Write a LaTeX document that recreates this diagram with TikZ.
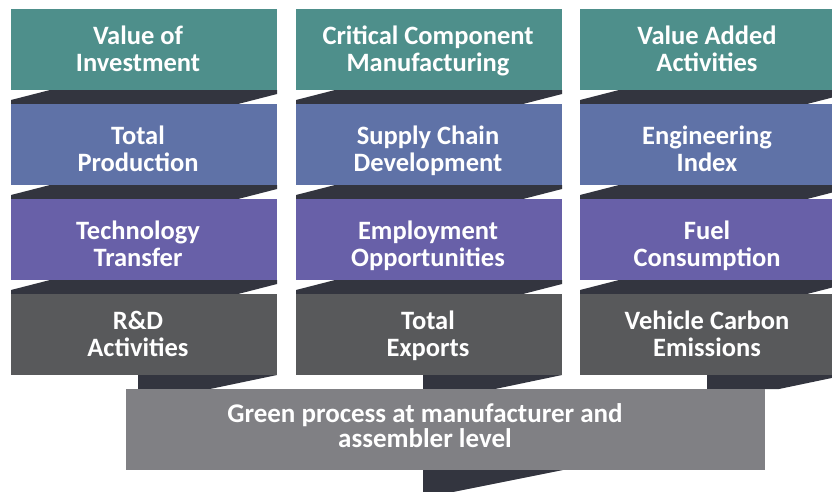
\documentclass[tikz,border=0pt]{standalone}
\usepackage{fontspec}
\setmainfont{Carlito}
\usetikzlibrary{calc}
\definecolor{cteal}{RGB}{78,143,139}
\definecolor{cblue}{RGB}{95,114,167}
\definecolor{cpurp}{RGB}{104,96,168}
\definecolor{cdgrey}{RGB}{88,89,91}
\definecolor{cfold}{RGB}{51,53,63}
\definecolor{cgbox}{RGB}{128,128,132}
\pgfdeclarelayer{background}
\pgfsetlayers{background,main}
\begin{document}
\begin{tikzpicture}[x=1pt,y=-1pt,
  box/.style={anchor=north west, minimum width=266pt, minimum height=81pt, inner sep=0pt, outer sep=0pt, draw=none},
  lbl/.style={text=white, font=\bfseries\fontsize{26.5}{27}\selectfont, align=center, inner sep=0pt},
  fold/.style={fill=cfold}]
\useasboundingbox (0,0) rectangle (832,491);
% boxes
\foreach \c/\x in {1/11,2/296,3/580}{
  \foreach \r/\y/\col in {1/9/cteal,2/104/cblue,3/199/cpurp,4/294/cdgrey}{
    \node[box, fill=\col] (b\r\c) at (\x,\y) {};
  }
}
\node[box, fill=cgbox, minimum width=639pt] (g) at (126,389) {};
% folds between rows
\begin{pgfonlayer}{background}
\foreach \c in {1,2,3}{
  \foreach \r/\s in {1/2,2/3,3/4}{
    \fill[fold] ($(b\r\c.south west)+(39,0)$) -- (b\r\c.south east) -- ($(b\r\c.south east)+(0,4)$)
      -- ($(b\s\c.north east)+(-39,0)$) -- (b\s\c.north west) -- ($(b\s\c.north west)+(0,-4)$) -- cycle;
  }
  \fill[fold] ($(b4\c.south west)+(127,0)$) -- (b4\c.south east) -- ($(b4\c.south east)+(-67,14)$)
    -- ($(b4\c.south west)+(127,14)$) -- cycle;
}
\fill[fold] ($(g.south west)+(297,0)$) -- ($(g.south west)+(437,0)$) -- ($(g.south west)+(317,24)$)
  -- ($(g.south west)+(297,24)$) -- cycle;
\end{pgfonlayer}
% labels
\node[lbl] (t11) at ($(b11.center)+(-6,3)$) {\strut Value of\\\strut Investment};
\node[lbl] (t21) at ($(b21.center)+(-6,8)$) {\strut Total\\\strut Production};
\node[lbl] (t31) at ($(b31.center)+(-6,8)$) {\strut Technology\\\strut Transfer};
\node[lbl] (t41) at ($(b41.center)+(-6,3)$) {\strut R\&D\\\strut Activities};
\node[lbl] (t12) at ($(b12.center)+(-1,3)$) {\strut Critical Component\\\strut Manufacturing};
\node[lbl] (t22) at ($(b22.center)+(-1,8)$) {\strut Supply Chain\\\strut Development};
\node[lbl] (t32) at ($(b32.center)+(-1,8)$) {\strut Employment\\\strut Opportunities};
\node[lbl] (t42) at ($(b42.center)+(-1,3)$) {\strut Total\\\strut Exports};
\node[lbl] (t13) at ($(b13.center)+(-6,3)$) {\strut Value Added\\\strut Activities};
\node[lbl] (t23) at ($(b23.center)+(-6,8)$) {\strut Engineering\\\strut Index};
\node[lbl] (t33) at ($(b33.center)+(-6,8)$) {\strut Fuel\\\strut Consumption};
\node[lbl] (t43) at ($(b43.center)+(-6,3)$) {\strut Vehicle Carbon\\\strut Emissions};
\node[lbl, font=\bfseries\fontsize{27}{25}\selectfont] (tg) at (425,426) {Green process at manufacturer and\\assembler level};
\end{tikzpicture}
\end{document}
